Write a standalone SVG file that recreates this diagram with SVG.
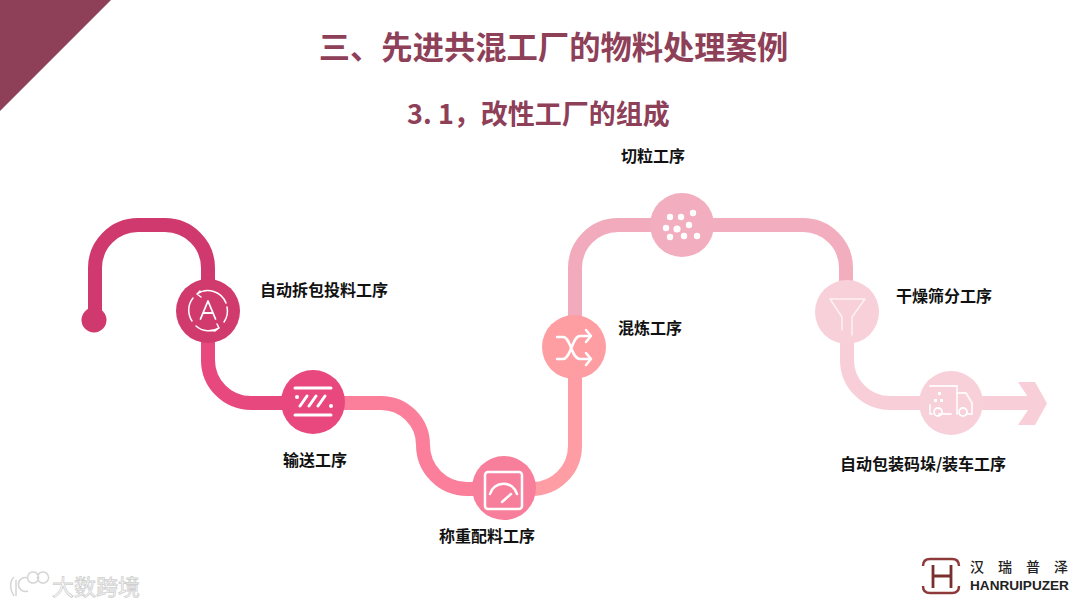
<svg xmlns="http://www.w3.org/2000/svg" width="1080" height="608" viewBox="0 0 1080 608">
<style>
text{font-family:"Noto Sans CJK SC","Liberation Sans",sans-serif}
.seg{fill:none;stroke-width:14}
.lb{font-size:16px;font-weight:700;fill:#111;text-anchor:middle}
.ic{fill:none;stroke:#fff;stroke-linecap:round;stroke-linejoin:round}
.icf{fill:#fff}
</style>
<rect width="1080" height="608" fill="#fff"/>
<polygon points="0,0 111,0 0,111" fill="#8e4058"/>
<text x="553.500" y="59" font-size="31.300" font-weight="700" fill="#8e4058" text-anchor="middle">三、先进共混工厂的物料处理案例</text>
<text x="538.500" y="124" font-size="27" font-weight="700" fill="#8e4058" text-anchor="middle">3. 1，改性工厂的组成</text>
<g id="connectors">
<path class="seg" stroke="#d0396d" d="M95 320V268A43 43 0 0 1 138 225H165A43 43 0 0 1 208 268V300"/>
<circle cx="94" cy="320" r="12.500" fill="#d0396d"/>
<path class="seg" stroke="#e7497e" d="M208 325V360A43 43 0 0 0 251 403H320"/>
<path class="seg" stroke="#fb7f9b" d="M313 403H381A42 42 0 0 1 423 445A44 44 0 0 0 467 489H510"/>
<path class="seg" stroke="#fe9da3" d="M504 489H532A43 43 0 0 0 575 446V347"/>
<path class="seg" stroke="#f1abbc" d="M575 330V268A43 43 0 0 1 618 225H690"/>
<path class="seg" stroke="#f2aebf" d="M682 225H803A43 43 0 0 1 846 268V300"/>
<path class="seg" stroke="#f8cfd9" d="M847 325V360A43 43 0 0 0 890 403H1030"/>
<polygon points="1018,382 1035,382 1047,403.500 1035,425 1018,425 1028,410 1028,397" fill="#f8cfd9"/>
</g>
<g id="node1">
<circle cx="208" cy="311" r="32" fill="#d13a6c"/>
<path class="ic" stroke-width="1.500" d="M196 326A19.500 19.500 0 0 0 219 328M192 321A19.500 19.500 0 0 1 193 298M197 294A19.500 19.500 0 0 1 226 303M227 307A19.500 19.500 0 0 1 224 322M197 294L200 291M197 294L201 297M219 328L217 324M219 328L215 331"/>
<path class="ic" stroke-width="1.800" d="M200.500 319L208 301L215.500 319M203.500 313H212.500"/>
<text class="lb" x="324" y="296">自动拆包投料工序</text>
</g>
<g id="node2">
<circle cx="313" cy="402" r="32" fill="#e8487e"/>
<path class="ic" stroke-width="3" d="M295 388H331M295 415H331M300 406L307 396M309 406L316 396M318 406L325 396"/>
<circle class="icf" cx="297" cy="397" r="2"/>
<circle class="icf" cx="331" cy="406" r="2"/>
<text class="lb" x="315" y="466">输送工序</text>
</g>
<g id="node3">
<circle cx="504" cy="488" r="32" fill="#f77f9b"/>
<rect class="ic" stroke-width="2.500" x="485" y="472" width="37" height="37" rx="3"/>
<path class="ic" stroke-width="2.500" d="M490 494A14 14 0 0 1 517 494"/>
<path class="ic" stroke-width="2.500" d="M502 502L511 494"/>
<text class="lb" x="487" y="542">称重配料工序</text>
</g>
<g id="node4">
<circle cx="574" cy="347" r="32" fill="#fe9ea3"/>
<path class="ic" stroke-width="2.500" d="M557 337H563C571 337 571 359 580 359H591M557 359H563C571 359 572 336 580 336H591M586 330L591 336L586 342M586 353L591 359L586 365"/>
<text class="lb" x="650" y="334">混炼工序</text>
</g>
<g id="node5">
<circle cx="682" cy="225" r="32" fill="#f2aebf"/>
<g class="icf"><circle cx="670" cy="217" r="3.200"/><circle cx="681" cy="217" r="3.200"/><circle cx="693" cy="213" r="3.200"/><circle cx="689" cy="225" r="3.200"/><circle cx="666" cy="228" r="3.200"/><circle cx="677" cy="229" r="3.600"/><circle cx="670" cy="237" r="3.200"/><circle cx="684" cy="236" r="3.200"/><circle cx="697" cy="236" r="3.200"/></g>
<text class="lb" x="653" y="162">切粒工序</text>
</g>
<g id="node6">
<circle cx="847" cy="312" r="32" fill="#f8d0da"/>
<path class="ic" stroke-width="1.500" opacity="0.700" d="M830 299H865L852 317V335M842 317L830 299M842 317V330"/>
<text class="lb" x="944" y="302">干燥筛分工序</text>
</g>
<g id="node7">
<circle cx="951" cy="403" r="32" fill="#f8d0da"/>
<path class="ic" stroke-width="1.800" opacity="0.850" d="M930 386H957V414M957 393H966L972 403V414H968M951 414H939M930 405V414H932"/>
<circle class="ic" stroke-width="1.800" cx="938" cy="412" r="4"/><circle class="ic" stroke-width="1.800" cx="963" cy="412" r="4"/>
<g class="icf"><rect x="938" y="392" width="3" height="3"/><rect x="934" y="399" width="3" height="3"/><rect x="940" y="399" width="3" height="3"/></g>
<text class="lb" x="923" y="470">自动包装码垛/装车工序</text>
</g>
<g id="logo">
<path d="M923 566Q923 559 930 559H952Q959 559 959 566M923 586Q923 593 930 593H952Q959 593 959 586" fill="none" stroke="#8e3a3a" stroke-width="2.500"/>
<path d="M933 565V588M951 565V588M933 576H951" fill="none" stroke="#7a2f2f" stroke-width="2.800"/>
<text x="970" y="572" font-size="14" font-weight="500" fill="#222" letter-spacing="14">汉瑞普泽</text>
<text x="970" y="590" font-size="13.600" font-weight="700" fill="#222" style="font-family:'Liberation Sans',sans-serif">HANRUIPUZER</text>
</g>
<g id="watermark">
<text x="52" y="595" font-size="22" fill="#fff" stroke="#cfcfcf" stroke-width="0.800">大数跨境</text>
<path d="M14 577C9 582 10 590 14 596M16 580V596M28 578A7 7 0 1 0 28 591M33 572a5.500 5.500 0 1 0 .1 0M43 572a5.500 5.500 0 1 0 .1 0" fill="none" stroke="#d5d5d5" stroke-width="1.500"/>
</g>
</svg>
